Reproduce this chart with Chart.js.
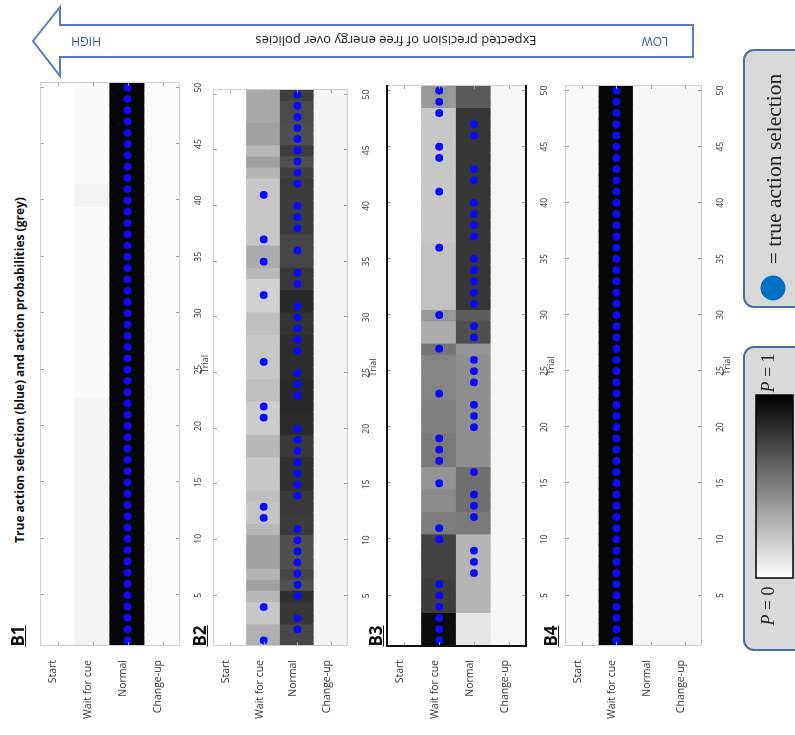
<!DOCTYPE html>
<html>
<head>
<meta charset="utf-8">
<script src="https://cdn.jsdelivr.net/npm/chart.js@4.4.1/dist/chart.umd.min.js"></script>
<style>
  html, body { margin: 0; padding: 0; background: #fff; }
  body { width: 795px; height: 735px; position: relative; overflow: hidden; font-family: 'Open Sans', sans-serif; }
  /* the figure is laid out lying on its side and turned a quarter turn counter-clockwise */
  #fig { position: absolute; left: 0; top: 0; width: 735px; height: 795px;
         transform-origin: 0 0; transform: translate(0px, 735px) rotate(-90deg); }
  .panel { position: absolute; left: 0; }
  .panel canvas { display: block; }
  #title { position: absolute; left: 160px; top: 11px; width: 410px; line-height: 18px;
           text-align: center; font-weight: 700; font-size: 12px; color: #111; white-space: nowrap; }
  .tag { position: absolute; left: 84px; width: 30px; line-height: 20px; text-align: center;
         font-weight: 700; font-size: 17px; text-decoration: underline; color: #111; }
  #deco { position: absolute; left: 0; top: 0; }
</style>
</head>
<body>
<div id="fig">
  <div id="title">True action selection (blue) and action probabilities (grey)</div>
</div>
<svg id="deco" width="795" height="735" xmlns="http://www.w3.org/2000/svg">
  <defs>
    <linearGradient id="pgrad" x1="0" y1="0" x2="0" y2="1">
      <stop offset="0" stop-color="#000"/>
      <stop offset="1" stop-color="#fff"/>
    </linearGradient>
  </defs>
  <polygon points="33,41 60,7 60,25 693,25 693,57 60,57 60,76" fill="#fff" stroke="#5080c0" stroke-width="2"/>
  <g font-family="Open Sans, sans-serif" dominant-baseline="central" text-anchor="middle">
    <text x="86" y="41" transform="rotate(180 86 41)" fill="#2e5aa8" font-size="12">HIGH</text>
    <text x="396" y="41" transform="rotate(180 396 41)" fill="#222" font-size="13">Expected precision of free energy over policies</text>
    <text x="655" y="41" transform="rotate(180 655 41)" fill="#2e5aa8" font-size="12">LOW</text>
  </g>
  <rect x="744" y="50" width="70" height="257" rx="10" fill="#d9d9d9" stroke="#4a6da8" stroke-width="2"/>
  <circle cx="773" cy="288" r="12.5" fill="#0070c0"/>
  <text x="774" y="169" transform="rotate(-90 774 169)" text-anchor="middle" dominant-baseline="central"
        font-family="Liberation Serif, serif" font-size="21.5" fill="#222">= true action selection</text>
  <rect x="744" y="347" width="70" height="303" rx="10" fill="#d9d9d9" stroke="#4a6da8" stroke-width="2"/>
  <text x="768" y="373" transform="rotate(-90 768 373)" text-anchor="middle" dominant-baseline="central"
        font-family="Liberation Serif, serif" font-size="18" fill="#222"><tspan font-style="italic">P</tspan> = 1</text>
  <rect x="756" y="395" width="37" height="183" fill="url(#pgrad)" stroke="#000" stroke-width="1.5"/>
  <text x="768" y="606" transform="rotate(-90 768 606)" text-anchor="middle" dominant-baseline="central"
        font-family="Liberation Serif, serif" font-size="18" fill="#222"><tspan font-style="italic">P</tspan> = 0</text>
</svg>

<script>
// ---- data -------------------------------------------------------------
const actions = ['Start', 'Wait for cue', 'Normal', 'Change-up'];
const trials = [1,2,3,4,5,6,7,8,9,10,11,12,13,14,15,16,17,18,19,20,21,22,23,24,25,
                26,27,28,29,30,31,32,33,34,35,36,37,38,39,40,41,42,43,44,45,46,47,48,49,50];
const trialTicks = [5, 10, 15, 20, 25, 30, 35, 40, 45, 50];
const panelTags = ['B1', 'B2', 'B3', 'B4'];

// B1: action probabilities per trial
const b1Start  = [0,0,0,0,0,0,0,0,0,0, 0,0,0,0,0,0,0,0,0,0, 0,0,0,0,0,0,0,0,0,0, 0,0,0,0,0,0,0,0,0,0, 0,0,0,0,0,0,0,0,0,0];
const b1Wait   = [0.04,0.04,0.04,0.04,0.04,0.04,0.04,0.04,0.04,0.04, 0.04,0.04,0.04,0.04,0.04,0.04,0.04,0.04,0.04,0.04,
                  0.04,0.04,0.015,0.015,0.015,0.015,0.015,0.015,0.015,0.015, 0.015,0.015,0.015,0.015,0.015,0.015,0.015,0.015,0.015,0.05,
                  0.05,0.015,0.015,0.015,0.015,0.015,0.015,0.015,0.015,0.015];
const b1Normal = [0.98,0.98,0.98,0.98,0.98,0.98,0.98,0.98,0.98,0.98, 0.98,0.98,0.98,0.98,0.98,0.98,0.98,0.98,0.98,0.98,
                  0.98,0.98,0.98,0.98,0.98,0.98,0.98,0.98,0.98,0.98, 0.98,0.98,0.98,0.98,0.98,0.98,0.98,0.98,0.98,0.98,
                  0.98,0.98,0.98,0.98,0.98,0.98,0.98,0.98,0.98,0.98];
const b1Change = [0.01,0.01,0.01,0.01,0.01,0.01,0.01,0.01,0.01,0.01, 0.01,0.01,0.01,0.01,0.01,0.01,0.01,0.01,0.01,0.01,
                  0.01,0.01,0.01,0.01,0.01,0.01,0.01,0.01,0.01,0.01, 0.01,0.01,0.01,0.01,0.01,0.01,0.01,0.01,0.01,0.01,
                  0.01,0.01,0.01,0.01,0.01,0.01,0.01,0.01,0.01,0.01];
// B1: chosen action per trial (index into actions)
const b1Choice = [2,2,2,2,2,2,2,2,2,2, 2,2,2,2,2,2,2,2,2,2, 2,2,2,2,2,2,2,2,2,2, 2,2,2,2,2,2,2,2,2,2, 2,2,2,2,2,2,2,2,2,2];

// B2
const b2Start  = [0,0,0,0,0,0,0,0,0,0, 0,0,0,0,0,0,0,0,0,0, 0,0,0,0,0,0,0,0,0,0, 0,0,0,0,0,0,0,0,0,0, 0,0,0,0,0,0,0,0,0,0];
const b2Wait   = [0.31,0.31,0.22,0.22,0.28,0.37,0.29,0.36,0.36,0.36, 0.28,0.23,0.23,0.25,0.22,0.22,0.22,0.28,0.28,0.20,
                  0.20,0.20,0.25,0.25,0.22,0.22,0.22,0.22,0.25,0.25, 0.18,0.18,0.18,0.28,0.33,0.33,0.22,0.22,0.22,0.22,
                  0.22,0.22,0.29,0.37,0.28,0.37,0.37,0.34,0.34,0.34];
const b2Normal = [0.72,0.72,0.79,0.79,0.82,0.69,0.73,0.69,0.69,0.69, 0.77,0.77,0.78,0.78,0.81,0.81,0.81,0.78,0.78,0.83,
                  0.83,0.84,0.84,0.84,0.82,0.82,0.82,0.82,0.80,0.80, 0.84,0.84,0.78,0.78,0.73,0.73,0.73,0.77,0.77,0.77,
                  0.77,0.77,0.75,0.69,0.76,0.69,0.69,0.71,0.71,0.75];
const b2Change = [0.04,0.04,0.04,0.04,0.04,0.04,0.04,0.04,0.04,0.04, 0.04,0.04,0.04,0.04,0.04,0.04,0.04,0.04,0.04,0.04,
                  0.04,0.04,0.04,0.04,0.04,0.04,0.04,0.04,0.04,0.04, 0.04,0.04,0.04,0.04,0.04,0.04,0.04,0.04,0.04,0.04,
                  0.04,0.04,0.04,0.04,0.04,0.04,0.04,0.04,0.04,0.04];
const b2Choice = [1,2,2,1,2,2,2,2,2,2, 2,1,1,2,2,2,2,2,2,2, 1,1,2,2,2,1,2,2,2,2, 2,1,2,2,1,2,1,2,2,2, 1,2,2,2,2,2,2,2,2,2];

// B3
const b3Start  = [0,0,0,0,0,0,0,0,0,0, 0,0,0,0,0,0,0,0,0,0, 0,0,0,0,0,0,0,0,0,0, 0,0,0,0,0,0,0,0,0,0, 0,0,0,0,0,0,0,0,0,0];
const b3Wait   = [0.95,0.95,0.95,0.76,0.76,0.76,0.74,0.74,0.74,0.74, 0.51,0.51,0.46,0.46,0.42,0.42,0.52,0.52,0.52,0.50,
                  0.50,0.50,0.48,0.48,0.48,0.48,0.54,0.33,0.33,0.40, 0.24,0.24,0.24,0.24,0.24,0.24,0.22,0.22,0.22,0.22,
                  0.22,0.22,0.22,0.22,0.22,0.22,0.22,0.22,0.40,0.40];
const b3Normal = [0.10,0.10,0.10,0.29,0.29,0.29,0.29,0.29,0.29,0.29, 0.52,0.52,0.56,0.56,0.56,0.56,0.44,0.44,0.44,0.44,
                  0.44,0.44,0.44,0.44,0.44,0.44,0.42,0.69,0.69,0.64, 0.79,0.79,0.79,0.79,0.79,0.79,0.79,0.79,0.79,0.79,
                  0.79,0.79,0.79,0.79,0.79,0.79,0.79,0.79,0.65,0.65];
const b3Change = [0.035,0.035,0.035,0.035,0.035,0.035,0.035,0.035,0.035,0.035, 0.035,0.035,0.035,0.035,0.035,0.035,0.035,0.035,0.035,0.035,
                  0.035,0.035,0.035,0.035,0.035,0.035,0.035,0.035,0.035,0.035, 0.035,0.035,0.035,0.035,0.035,0.035,0.035,0.035,0.035,0.035,
                  0.035,0.035,0.035,0.035,0.035,0.035,0.035,0.035,0.035,0.035];
const b3Choice = [1,1,1,1,1,1,2,2,2,1, 1,2,2,2,1,2,1,1,1,2, 2,2,1,2,2,2,1,2,2,1, 2,2,2,2,2,1,2,2,2,2, 1,2,2,1,1,2,2,1,1,1];

// B4
const b4Start  = [0.025,0.025,0.025,0.025,0.025,0.025,0.025,0.025,0.025,0.025, 0.025,0.025,0.025,0.025,0.025,0.025,0.025,0.025,0.025,0.025,
                  0.025,0.025,0.025,0.025,0.025,0.025,0.025,0.025,0.025,0.025, 0.025,0.025,0.025,0.025,0.025,0.025,0.025,0.025,0.025,0.025,
                  0.025,0.025,0.025,0.025,0.025,0.025,0.025,0.025,0.025,0.025];
const b4Wait   = [0.98,0.98,0.98,0.98,0.98,0.98,0.98,0.98,0.98,0.98, 0.98,0.98,0.98,0.98,0.98,0.98,0.98,0.98,0.98,0.98,
                  0.98,0.98,0.98,0.98,0.98,0.98,0.98,0.98,0.98,0.98, 0.98,0.98,0.98,0.98,0.98,0.98,0.98,0.98,0.98,0.98,
                  0.98,0.98,0.98,0.98,0.98,0.98,0.98,0.98,0.98,0.98];
const b4Normal = [0.03,0.03,0.03,0.03,0.03,0.03,0.03,0.03,0.03,0.03, 0.03,0.03,0.03,0.03,0.03,0.03,0.03,0.03,0.03,0.03,
                  0.03,0.03,0.03,0.03,0.03,0.03,0.03,0.03,0.03,0.03, 0.03,0.03,0.03,0.03,0.03,0.03,0.03,0.03,0.03,0.03,
                  0.03,0.03,0.03,0.03,0.03,0.03,0.03,0.03,0.03,0.03];
const b4Change = [0.03,0.03,0.03,0.03,0.03,0.03,0.03,0.03,0.03,0.03, 0.03,0.03,0.03,0.03,0.03,0.03,0.03,0.03,0.03,0.03,
                  0.03,0.03,0.03,0.03,0.03,0.03,0.03,0.03,0.03,0.03, 0.03,0.03,0.03,0.03,0.03,0.03,0.03,0.03,0.03,0.03,
                  0.03,0.03,0.03,0.03,0.03,0.03,0.03,0.03,0.03,0.03];
const b4Choice = [1,1,1,1,1,1,1,1,1,1, 1,1,1,1,1,1,1,1,1,1, 1,1,1,1,1,1,1,1,1,1, 1,1,1,1,1,1,1,1,1,1, 1,1,1,1,1,1,1,1,1,1];

const panelProbs = [
  [b1Start, b1Wait, b1Normal, b1Change],
  [b2Start, b2Wait, b2Normal, b2Change],
  [b3Start, b3Wait, b3Normal, b3Change],
  [b4Start, b4Wait, b4Normal, b4Change]
];
const panelChoices = [b1Choice, b2Choice, b3Choice, b4Choice];

// ---- layout (coordinates of the lying-down figure) --------------------
// v0/v1: top/bottom of each plot area, u0/u1: left/right of each plot area
const panelBoxes = [
  { v0: 40,  v1: 180, u0: 89, u1: 653, dark: false, tagV: 18 },
  { v0: 213, v1: 348, u0: 89, u1: 646, dark: false, tagV: 200 },
  { v0: 387, v1: 526, u0: 89, u1: 650, dark: true,  tagV: 376 },
  { v0: 565, v1: 702, u0: 89, u1: 650, dark: false, tagV: 551 }
];
const CANVAS_W = 670, PAD_TOP = 15, XAXIS_H = 31;

const grey = p => { const g = Math.round(255 * (1 - p)); return `rgb(${g},${g},${g})`; };

// inward tick marks and the plot box, drawn over the cells
const framePlugin = {
  id: 'frame',
  afterDatasetsDraw(chart, args, opts) {
    const { ctx, chartArea: a, scales } = chart;
    const xs = scales.x, ys = scales.y;
    ctx.save();
    ctx.lineWidth = 1;
    ctx.strokeStyle = '#a0a0a0';
    ctx.beginPath();
    xs.ticks.forEach(tk => {
      const p = Math.round(xs.getPixelForValue(tk.value)) + 0.5;
      ctx.moveTo(p, a.top); ctx.lineTo(p, a.top + 4);
      ctx.moveTo(p, a.bottom); ctx.lineTo(p, a.bottom - 4);
    });
    ys.ticks.forEach((tk, k) => {
      const p = Math.round(ys.getPixelForTick(k)) + 0.5;
      ctx.moveTo(a.left, p); ctx.lineTo(a.left + 4, p);
      ctx.moveTo(a.right, p); ctx.lineTo(a.right - 4, p);
    });
    ctx.stroke();
    ctx.strokeStyle = '#cfcfcf';
    ctx.strokeRect(a.left + 0.5, a.top + 0.5, a.width - 1, a.height - 1);
    if (opts.dark) {
      ctx.strokeStyle = '#111';
      ctx.lineWidth = 2;
      ctx.beginPath();
      ctx.moveTo(a.right, a.top); ctx.lineTo(a.left, a.top);
      ctx.lineTo(a.left, a.bottom); ctx.lineTo(a.right, a.bottom);
      ctx.stroke();
    }
    ctx.restore();
  }
};

const fig = document.getElementById('fig');

panelBoxes.forEach((box, i) => {
  const probs = panelProbs[i];
  const choice = panelChoices[i];

  const cells = [];
  actions.forEach((a, k) => {
    trials.forEach((t, j) => cells.push({ y: a, x: [t - 0.5, t + 0.5], p: probs[k][j] }));
  });
  const dots = trials.map((t, j) => ({ x: t, y: actions[choice[j]] }));

  const wrap = document.createElement('div');
  wrap.className = 'panel';
  const H = (box.v1 - box.v0) + PAD_TOP + XAXIS_H;
  wrap.style.top = (box.v0 - PAD_TOP) + 'px';
  wrap.style.width = CANVAS_W + 'px';
  wrap.style.height = H + 'px';
  const canvas = document.createElement('canvas');
  canvas.width = CANVAS_W;
  canvas.height = H;
  canvas.style.width = CANVAS_W + 'px';
  canvas.style.height = H + 'px';
  wrap.appendChild(canvas);
  fig.appendChild(wrap);

  const tag = document.createElement('div');
  tag.className = 'tag';
  tag.style.top = (box.tagV - 10) + 'px';
  tag.textContent = panelTags[i];
  fig.appendChild(tag);

  new Chart(canvas, {
    type: 'bar',
    data: {
      datasets: [
        {
          type: 'scatter',
          indexAxis: 'x',
          data: dots,
          pointRadius: 3.9,
          pointHoverRadius: 3.9,
          pointBackgroundColor: '#0a0aff',
          pointBorderWidth: 0,
          order: 0
        },
        {
          type: 'bar',
          indexAxis: 'y',
          data: cells,
          backgroundColor: c => (c.raw ? grey(c.raw.p) : '#fff'),
          borderWidth: 0,
          barPercentage: 1,
          categoryPercentage: 1,
          inflateAmount: 0.6,
          order: 1
        }
      ]
    },
    options: {
      responsive: false,
      animation: false,
      events: [],
      indexAxis: 'y',
      layout: { padding: { top: PAD_TOP, right: CANVAS_W - box.u1, bottom: 0, left: 0 } },
      plugins: {
        legend: { display: false },
        tooltip: { enabled: false },
        frame: { dark: box.dark }
      },
      scales: {
        x: {
          type: 'linear',
          position: 'bottom',
          min: 0.5,
          max: 50.5,
          afterBuildTicks: s => { s.ticks = trialTicks.map(v => ({ value: v })); },
          afterFit: s => { s.height = XAXIS_H; },
          grid: { display: false },
          border: { display: false },
          ticks: { font: { family: 'Open Sans', size: 8.5 }, color: '#333', padding: 5, maxRotation: 0, autoSkip: false },
          title: { display: true, text: 'Trial', font: { family: 'Open Sans', size: 9 }, color: '#333', padding: 0 }
        },
        y: {
          type: 'category',
          labels: actions,
          position: 'left',
          offset: true,
          afterFit: s => { s.width = box.u0; },
          grid: { display: false },
          border: { display: false },
          ticks: { font: { family: 'Open Sans', size: 10.5 }, color: '#333', padding: 6, labelOffset: -4 }
        }
      }
    },
    plugins: [framePlugin]
  });
});
</script>
</body>
</html>
